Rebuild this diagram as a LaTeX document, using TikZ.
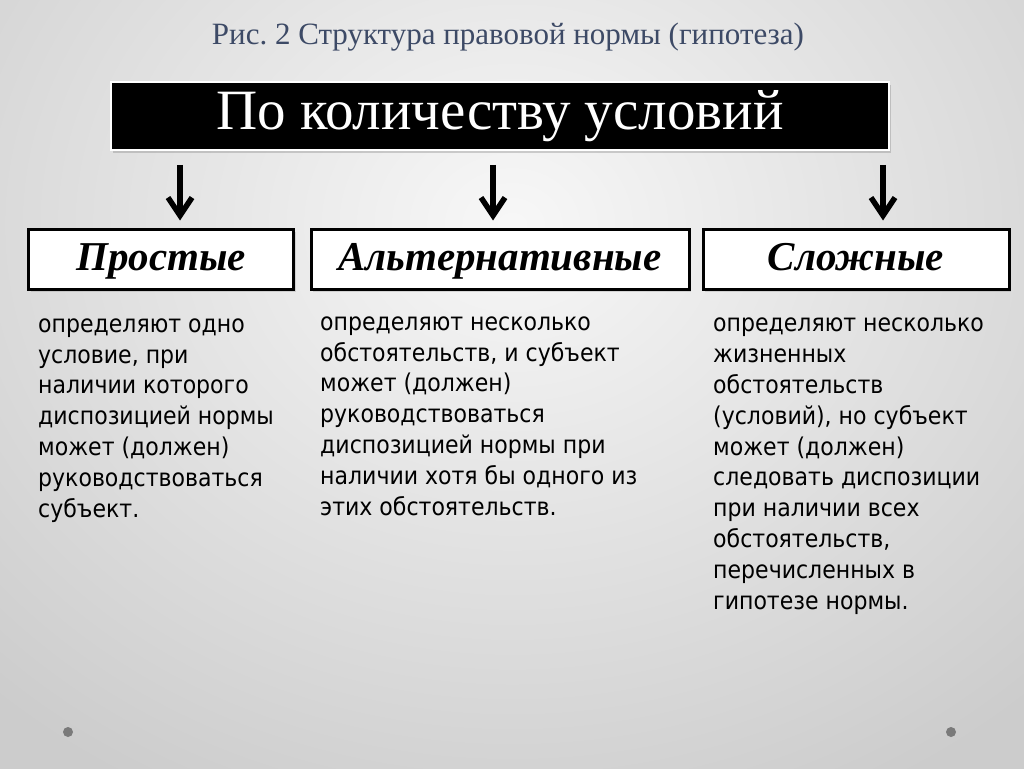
\documentclass[tikz,border=0pt]{standalone}
\usepackage{fontspec}
\setmainfont{Liberation Serif}
\newfontfamily\notefont{DejaVu Sans Condensed}
\usepackage{xcolor}
\usetikzlibrary{arrows.meta,shadows}
\definecolor{titleblue}{HTML}{3D4A66}
\definecolor{slidedot}{HTML}{7A7A7A}
\frenchspacing
\tikzset{
    head-box/.style = {fill=black, draw=white, line width=1.5pt, minimum height=68, text=white,
        font=\fontsize{57}{57}\selectfont, drop shadow={opacity=0.35, shadow xshift=2pt, shadow yshift=-3pt}},
    kind-box/.style = {fill=white, draw=black, line width=3pt, minimum height=60, inner sep=0pt,
        text height=30pt, text depth=7pt,
        font=\fontsize{41}{41}\selectfont\bfseries\itshape,
        drop shadow={opacity=0.25, shadow xshift=2pt, shadow yshift=-3pt}},
    note-text/.style = {anchor=base west, align=left, inner sep=0pt, font=\notefont\fontsize{24.5}{30.8}\selectfont},
    down-arrow/.style = {-{Straight Barb[length=18pt,width=24pt,line width=5.5pt]}, line width=5.5pt},
}

\begin{document}
\begin{tikzpicture}[x=1pt,y=-1pt]
\begin{scope}
\clip (0,0) rectangle (1024,768);
\shade[inner color=white!97!black, outer color=white!80!black] (-250,-420) rectangle (1274,870);
\end{scope}
\useasboundingbox (0,0) rectangle (1024,768);
\node[text=titleblue, font=\fontsize{31}{31}\selectfont] (title) at (508,37) {Рис. 2 Структура правовой нормы (гипотеза)};
\node[head-box, minimum width=778] (head) at (500,116) {По количеству условий};

\node[kind-box, minimum width=265] (simple) at (161,259) {Простые};
\node[kind-box, minimum width=378] (altern) at (500,259) {Альтернативные};
\node[kind-box, minimum width=306] (complex) at (856,259) {Сложные};

\draw[down-arrow, shorten <=14pt, shorten >=7pt] (180,0 |- head.south) -- (180,0 |- simple.north);
\draw[down-arrow, shorten <=14pt, shorten >=7pt] (493,0 |- head.south) -- (493,0 |- altern.north);
\draw[down-arrow, shorten <=14pt, shorten >=7pt] (883,0 |- head.south) -- (883,0 |- complex.north);

% base anchor sits on the last line
\node[note-text] (simple-text) at (38,517) {определяют одно\\условие, при\\наличии которого\\диспозицией нормы\\может (должен)\\руководствоваться\\субъект.};
\node[note-text] (altern-text) at (320,515) {определяют несколько\\обстоятельств, и субъект\\может (должен)\\руководствоваться\\диспозицией нормы при\\наличии хотя бы одного из\\этих обстоятельств.};
\node[note-text] (complex-text) at (713,609) {определяют несколько\\жизненных\\обстоятельств\\(условий), но субъект\\может (должен)\\следовать диспозиции\\при наличии всех\\обстоятельств,\\перечисленных в\\гипотезе нормы.};

\fill[slidedot] (68,732) circle (5);
\fill[slidedot] (951,732) circle (5);
\end{tikzpicture}
\end{document}
